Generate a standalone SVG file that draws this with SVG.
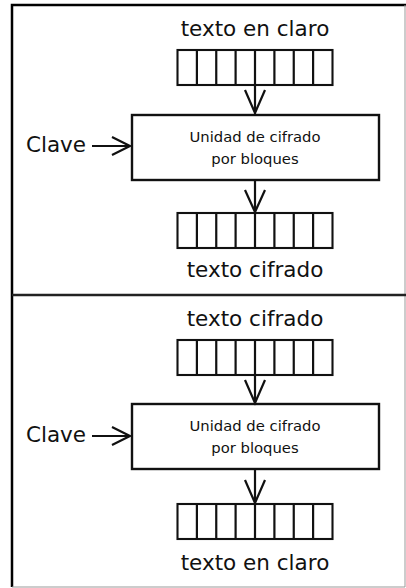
<svg xmlns="http://www.w3.org/2000/svg" width="406" height="588" viewBox="0 0 406 588">
<style>
.t{font-family:"DejaVu Sans",sans-serif;fill:#111;text-anchor:middle}
.big{font-size:21.5px}
.small{font-size:14.8px}
.ln{stroke:#111;stroke-width:2.2;fill:none}
.reg{stroke:#111;stroke-width:2.1;fill:#fff}
.box{stroke:#111;stroke-width:2.4;fill:#fff}
</style>
<defs>
<g id="register">
<rect class="reg" x="177.5" y="0" width="155" height="35"/>
<path class="ln" stroke-width="2.1" d="M196.9 0V35M216.25 0V35M235.6 0V35M255 0V35M274.4 0V35M293.75 0V35M313.1 0V35"/>
</g>
</defs>
<rect x="0" y="0" width="406" height="588" fill="#fff"/>
<g id="frame">
<path d="M12 587V5H406" stroke="#000" stroke-width="2.5" fill="none"/>
<path d="M405 5V587H12" stroke="#999" stroke-width="1" fill="none"/>
<line x1="12" y1="295" x2="406" y2="295" stroke="#222" stroke-width="2.5"/>
</g>
<g id="top">
<g id="plain1"><text class="t big" x="255" y="36">texto en claro</text><use href="#register" y="50"/></g>
<g id="cipher1"><rect class="box" x="132" y="115" width="247" height="65"/><text class="t small" x="255" y="142">Unidad de cifrado</text><text class="t small" x="255" y="164">por bloques</text></g>
<g id="key1"><text class="t big" x="56" y="152">Clave</text></g>
<g id="out1"><use href="#register" y="213"/><text class="t big" x="255" y="277">texto cifrado</text></g>
</g>
<g id="bottom" transform="translate(0,290)">
<g id="plain2"><text class="t big" x="255" y="36">texto cifrado</text><use href="#register" y="50"/></g>
<g id="cipher2"><rect class="box" x="132" y="114" width="247" height="65"/><text class="t small" x="255" y="141">Unidad de cifrado</text><text class="t small" x="255" y="163">por bloques</text></g>
<g id="key2"><text class="t big" x="56" y="152">Clave</text></g>
<g id="out2"><use href="#register" y="214"/><text class="t big" x="255" y="280">texto en claro</text></g>
</g>
<g id="connectors" class="ln">
<path d="M255 85V114M245 90L255 113L265 90"/>
<path d="M255 180V213M245 190L255 212L265 190"/>
<path d="M92 146H130M112 137L130 146L112 155"/>
<path d="M255 375V404M245 380L255 403L265 380"/>
<path d="M255 469V504M245 480L255 503L265 480"/>
<path d="M92 436H130M112 427L130 436L112 445"/>
</g>
</svg>
